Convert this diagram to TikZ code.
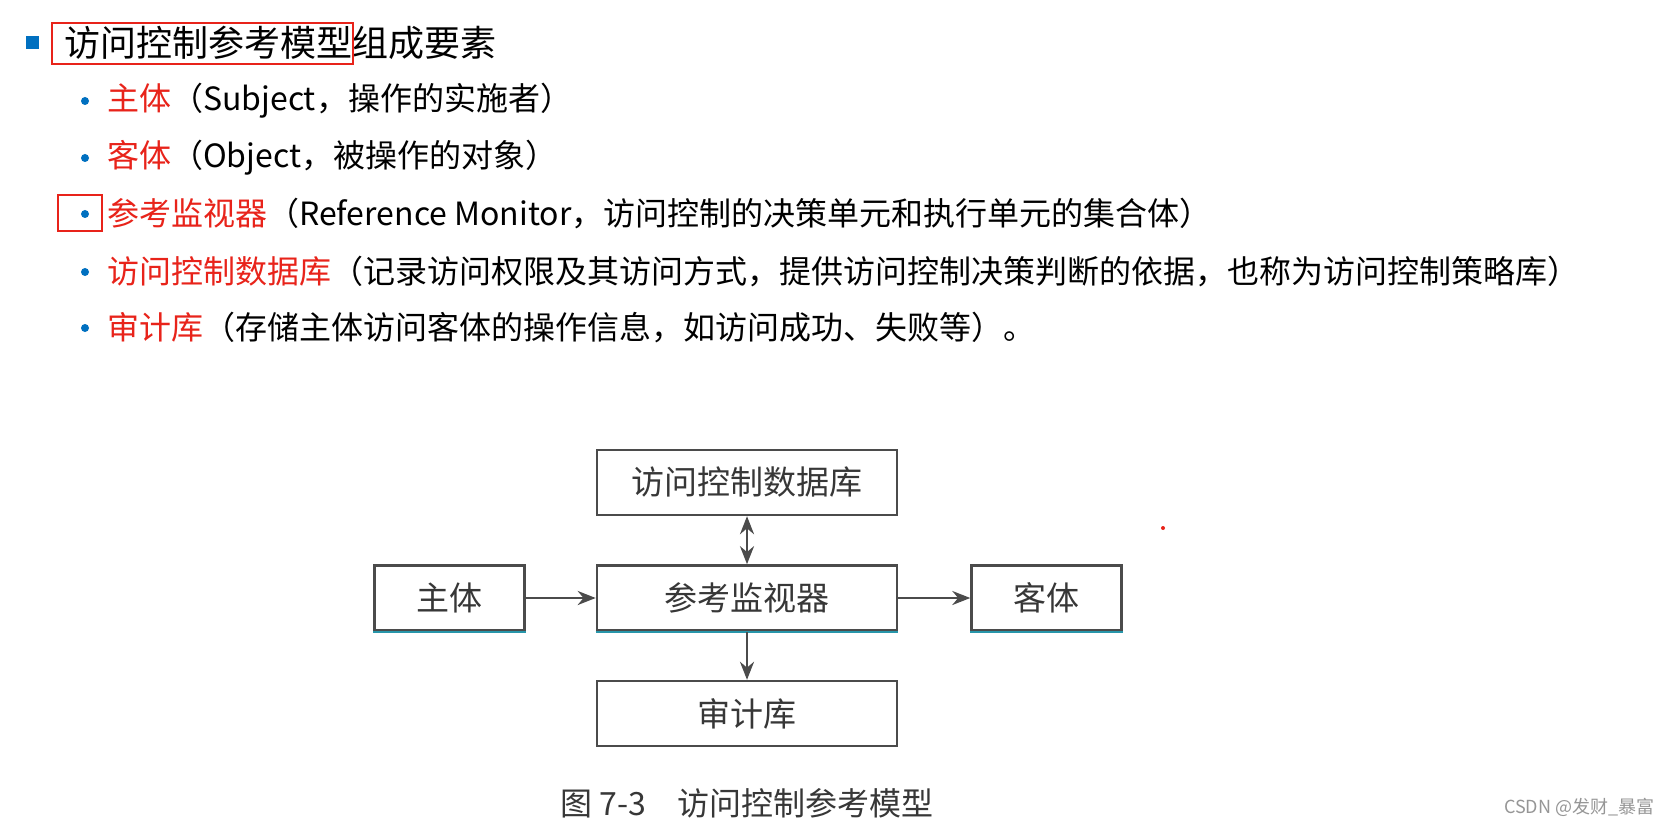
\documentclass[tikz,border=0pt]{standalone}
\usepackage{fontspec}
\setmainfont{Noto Sans CJK SC}
\usetikzlibrary{arrows.meta, positioning}
\definecolor{slidered}{RGB}{232,35,26}
\definecolor{slideblue}{RGB}{0,112,192}
\definecolor{inkgray}{RGB}{55,55,55}
\definecolor{linegray}{RGB}{75,75,75}
\definecolor{edgecyan}{RGB}{40,150,170}
\definecolor{markgray}{RGB}{150,150,150}
\tikzset{
  titletext/.style={anchor=west, inner sep=0pt, font=\fontsize{36}{40}\selectfont},
  itemtext/.style={anchor=west, inner sep=0pt, font=\fontsize{32}{36}\selectfont},
  bulletdot/.style={circle, fill=slideblue, inner sep=0pt, minimum size=8pt},
  hilite/.style={draw=slidered, line width=2pt},
  partbox/.style={rectangle, draw=linegray, line width=2.6pt, text=inkgray, minimum height=65pt,
                  inner sep=0pt, font=\fontsize{33}{36}\selectfont},
  widepart/.style={partbox, minimum width=300pt},
  smallpart/.style={partbox, minimum width=150pt},
  cyanedge/.style={draw=edgecyan, line width=1.5pt},
  arr/.style={-{Stealth[length=18pt, width=14pt]}, line width=2.6pt, draw=linegray},
  twoway/.style={{Stealth[length=18pt, width=14pt]}-{Stealth[length=18pt, width=14pt]}, line width=2.6pt, draw=linegray}
}
\newcommand{\hot}[1]{\textcolor{slidered}{#1}}

\begin{document}
\begin{tikzpicture}[x=1pt, y=-1pt, node distance=48pt and 70pt]
\fill[white] (0,0) rectangle (1672,826);
\useasboundingbox (0,0) rectangle (1672,826);
% slide heading
\node[rectangle, fill=slideblue, inner sep=0pt, minimum size=13pt] (sq) at (32,43) {};
\node[titletext] (title) at (64,43) {访问控制参考模型组成要素};
\draw[hilite] (52,23) rectangle (353,64);
% items
\node[bulletdot] (d1) at (85,101) {};
\node[itemtext] (i1) at (107,101) {\hot{主体}（Subject，操作的实施者）};
\node[bulletdot] (d2) at (85,158) {};
\node[itemtext] (i2) at (107,158) {\hot{客体}（Object，被操作的对象）};
\node[bulletdot] (d3) at (85,214) {};
\node[itemtext] (i3) at (107,214) {\hot{参考监视器}（Reference Monitor，访问控制的决策单元和执行单元的集合体）};
\draw[hilite] (58,195) rectangle (102,231);
\node[bulletdot] (d4) at (85,272) {};
\node[itemtext] (i4) at (107,272) {\hot{访问控制数据库}（记录访问权限及其访问方式，提供访问控制决策判断的依据，也称为访问控制策略库）};
\node[bulletdot] (d5) at (85,328) {};
\node[itemtext] (i5) at (107,328) {\hot{审计库}（存储主体访问客体的操作信息，如访问成功、失败等）。};
% model figure
\node[widepart] (mon) at (747,598) {参考监视器};
\node[widepart, above=of mon] (db) {访问控制数据库};
\node[widepart, below=of mon] (aud) {审计库};
\node[smallpart, left=of mon] (subj) {主体};
\node[smallpart, right=72pt of mon] (obj) {客体};
\draw[cyanedge] (subj.south west) -- (subj.south east);
\draw[cyanedge] (mon.south west) -- (mon.south east);
\draw[cyanedge] (obj.south west) -- (obj.south east);
\draw[arr] (subj) -- (mon);
\draw[arr] (mon) -- (obj);
\draw[twoway] (mon) -- (db);
\draw[arr] (mon) -- (aud);
\node[text=inkgray, font=\fontsize{32}{36}\selectfont, below=38pt of aud] (cap) {图 7-3\quad 访问控制参考模型};
\fill[slidered] (1163,528) circle (2pt);
\node[anchor=east, text=markgray, font=\fontsize{18}{20}\selectfont] (mark) at (1658,807) {CSDN @发财\_暴富};
\end{tikzpicture}
\end{document}
